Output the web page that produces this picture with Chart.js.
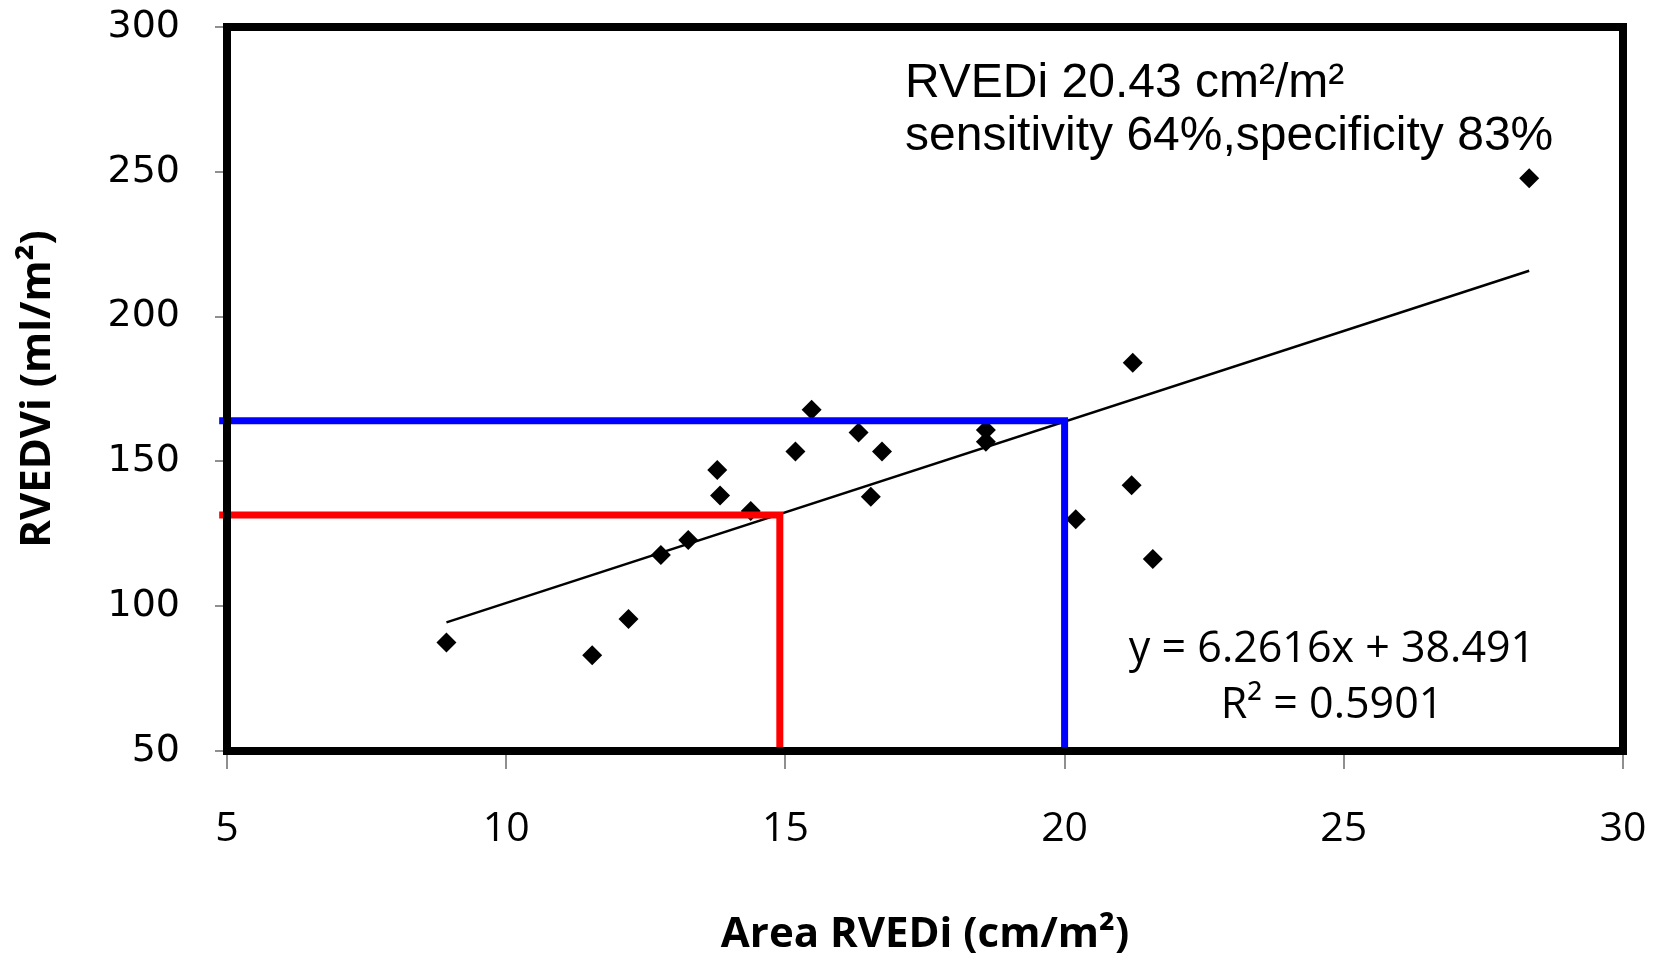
<!DOCTYPE html>
<html>
<head>
<meta charset="utf-8">
<title>RVEDVi vs Area RVEDi</title>
<script src="https://cdn.jsdelivr.net/npm/chart.js@4.4.0/dist/chart.umd.min.js"></script>
<style>
	html, body { margin: 0; padding: 0; background: #fff; }
	canvas { display: block; }
</style>
</head>
<body>
<canvas id="rvChart" width="1663" height="958"></canvas>
<script>
// Values
var areaRVEDi = [8.93, 11.54, 12.19, 12.77, 13.26, 13.78, 13.83, 14.38, 15.18, 15.47, 16.31, 16.53, 16.73, 18.59, 18.59, 20.2, 21.2, 21.22, 21.58, 28.32];
var rvedvi    = [87.5, 83.1, 95.6, 117.7, 122.9, 147, 138.2, 132.9, 153.4, 167.8, 160, 137.8, 153.4, 160.8, 156.8, 130, 141.8, 184.1, 116.3, 247.8];

var xTicks = [5, 10, 15, 20, 25, 30];
var yTicks = [50, 100, 150, 200, 250, 300];

// Linear trendline
var trendSlope = 6.2616;
var trendIntercept = 38.491;

// Cut-off guides: [x, y] of the corner
var redCut = [14.9, 131.5];
var blueCut = [20, 164];
var guideStartX = 4.86;

var cutoffText = ['RVEDi 20.43 cm²/m²', 'sensitivity 64%,specificity 83%'];
var equationText = ['y = 6.2616x + 38.491', 'R² = 0.5901'];

class RvChart {

	constructor(){
		this.colors = {
			black: '#000000',
			red: '#ff0000',
			blue: '#0000ff',
			tick: '#8f8f8f'
		};

		this.init();
	}

	init(){
		this.setChart();
	}

	guide(cut){
		return [
			{x: guideStartX, y: cut[1]},
			{x: cut[0], y: cut[1]},
			{x: cut[0], y: yTicks[0]}
		];
	}

	setChart(){
		var app = this;

		var points = areaRVEDi.map(function(x, i){ return {x: x, y: rvedvi[i]}; });
		var xMin = Math.min.apply(null, areaRVEDi);
		var xMax = Math.max.apply(null, areaRVEDi);
		var trend = [
			{x: xMin, y: trendSlope * xMin + trendIntercept},
			{x: xMax, y: trendSlope * xMax + trendIntercept}
		];

		// Thick black box round the plot area
		var frame = {
			id: 'frame',
			afterDatasetsDraw: function(chart){
				var a = chart.chartArea, ctx = chart.ctx;
				ctx.save();
				ctx.lineWidth = 8;
				ctx.strokeStyle = app.colors.black;
				ctx.strokeRect(a.left, a.top, a.right - a.left, a.bottom - a.top);
				ctx.restore();
			}
		};

		// Cut-off note and trendline equation
		var notes = {
			id: 'notes',
			afterDraw: function(chart){
				var ctx = chart.ctx;
				ctx.save();
				ctx.fillStyle = app.colors.black;
				ctx.textBaseline = 'alphabetic';

				ctx.font = '48px "Liberation Sans"';
				ctx.textAlign = 'left';
				ctx.fillText(cutoffText[0], 905, 97);
				ctx.fillText(cutoffText[1], 905, 150);

				ctx.font = '43px "Open Sans"';
				ctx.textAlign = 'center';
				ctx.fillText(equationText[0], 1332, 662);
				ctx.fillText(equationText[1], 1332, 718);
				ctx.restore();
			}
		};

		var el = document.getElementById('rvChart').getContext('2d');
		var rvChart = new Chart(el, {
			type: 'scatter',
			data: {
				datasets: [
					{
						label: 'Blue cut-off',
						data: app.guide(blueCut),
						showLine: true,
						borderColor: app.colors.blue,
						borderWidth: 7,
						pointRadius: 0,
						clip: false,
						order: 0
					},
					{
						label: 'Red cut-off',
						data: app.guide(redCut),
						showLine: true,
						borderColor: app.colors.red,
						borderWidth: 7,
						pointRadius: 0,
						clip: false,
						order: 0
					},
					{
						label: 'Linear trend',
						data: trend,
						showLine: true,
						borderColor: app.colors.black,
						borderWidth: 2.5,
						pointRadius: 0,
						order: 1
					},
					{
						label: 'RVEDVi',
						data: points,
						pointStyle: 'rectRot',
						pointRadius: 10,
						pointBorderWidth: 0,
						backgroundColor: app.colors.black,
						borderColor: app.colors.black,
						order: 2
					}
				]
			},
			options: {
				responsive: false,
				animation: false,
				devicePixelRatio: 1,
				layout: {
					autoPadding: false,
					padding: {top: 27, right: 40, bottom: 0, left: 0}
				},
				plugins: {
					legend: { display: false },
					tooltip: { enabled: false }
				},
				scales: {
					x: {
						type: 'linear',
						min: xTicks[0],
						max: xTicks[xTicks.length - 1],
						afterBuildTicks: function(s){ s.ticks = xTicks.map(function(v){ return {value: v}; }); },
						afterFit: function(s){
							s.height = 207;
							s.paddingLeft = 0;
							s.paddingRight = 0;
						},
						border: { display: false },
						grid: {
							drawOnChartArea: false,
							color: app.colors.tick,
							lineWidth: 2,
							tickLength: 18
						},
						ticks: {
							color: app.colors.black,
							font: { family: 'Open Sans', size: 41 },
							padding: 36,
							maxRotation: 0
						},
						title: {
							display: true,
							text: 'Area RVEDi (cm/m²)',
							color: app.colors.black,
							font: { family: 'Open Sans', size: 42, weight: 'bold', lineHeight: 1 },
							padding: {top: 0, bottom: 2}
						}
					},
					y: {
						type: 'linear',
						min: yTicks[0],
						max: yTicks[yTicks.length - 1],
						afterBuildTicks: function(s){ s.ticks = yTicks.map(function(v){ return {value: v}; }); },
						afterFit: function(s){
							s.width = 227;
							s.paddingTop = 0;
							s.paddingBottom = 0;
						},
						border: { display: false },
						grid: {
							drawOnChartArea: false,
							color: app.colors.tick,
							lineWidth: 2,
							tickLength: 12
						},
						ticks: {
							color: app.colors.black,
							font: { family: 'DejaVu Sans', size: 38 },
							padding: 35
						},
						title: {
							display: true,
							text: 'RVEDVi (ml/m²)',
							color: app.colors.black,
							font: { family: 'Open Sans', size: 42, weight: 'bold', lineHeight: 1 },
							padding: {top: 17, bottom: 0}
						}
					}
				}
			},
			plugins: [frame, notes]
		});
	}

}

new RvChart();
</script>
</body>
</html>
